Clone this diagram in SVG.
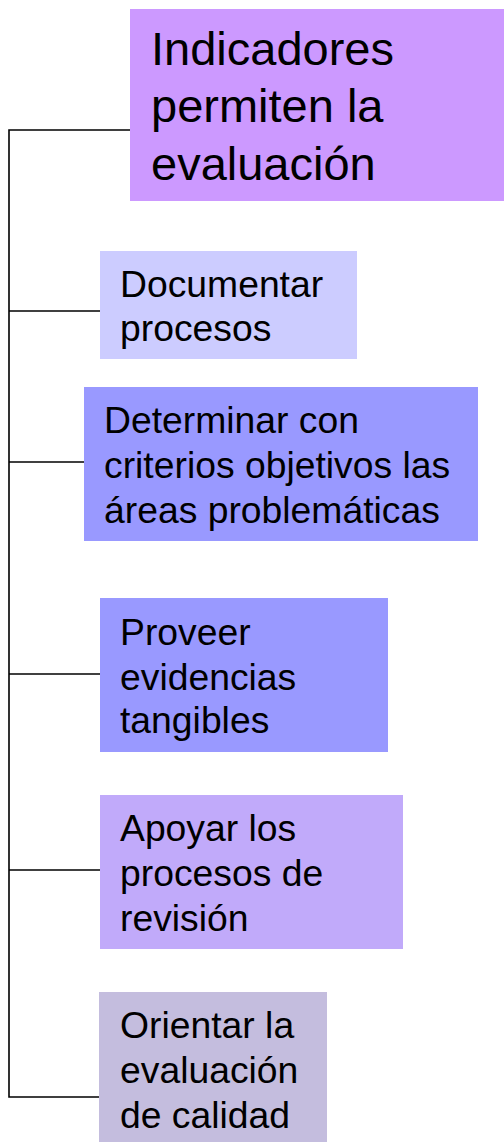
<svg xmlns="http://www.w3.org/2000/svg" width="504" height="1142" viewBox="0 0 504 1142">
<style>
text{font-family:"Liberation Sans",Arial,sans-serif;fill:#000}
.s{font-size:37.3px}
.b{font-size:47px}
.c{fill:none;stroke:#000;stroke-width:1.6}
</style>
<rect width="504" height="1142" fill="#fff"/>
<g id="connectors">
<path class="c" d="M130,130 H9 V1097 H99"/>
<path class="c" d="M9,311 H100"/>
<path class="c" d="M9,462 H84"/>
<path class="c" d="M9,674 H100"/>
<path class="c" d="M9,870 H100"/>
</g>
<g id="n0">
<rect x="130" y="9" width="374" height="192" fill="#CC99FF"/>
<text class="b" x="151" y="65">Indicadores</text>
<text class="b" x="151" y="122">permiten la</text>
<text class="b" x="151" y="180">evaluación</text>
</g>
<g id="n1">
<rect x="100" y="251" width="257" height="108" fill="#CCCCFF"/>
<text class="s" x="120" y="297">Documentar</text>
<text class="s" x="120" y="341">procesos</text>
</g>
<g id="n2">
<rect x="84" y="387" width="394" height="154" fill="#9999FF"/>
<text class="s" x="104" y="433">Determinar con</text>
<text class="s" x="104" y="478">criterios objetivos las</text>
<text class="s" x="104" y="523">áreas problemáticas</text>
</g>
<g id="n3">
<rect x="100" y="598" width="288" height="154" fill="#9999FF"/>
<text class="s" x="120" y="645">Proveer</text>
<text class="s" x="120" y="690">evidencias</text>
<text class="s" x="120" y="733">tangibles</text>
</g>
<g id="n4">
<rect x="100" y="795" width="303" height="154" fill="#C1AAFA"/>
<text class="s" x="120" y="841">Apoyar los</text>
<text class="s" x="120" y="886">procesos de</text>
<text class="s" x="120" y="931">revisión</text>
</g>
<g id="n5">
<rect x="99" y="992" width="228" height="150" fill="#C4BDDE"/>
<text class="s" x="120" y="1038">Orientar la</text>
<text class="s" x="120" y="1083">evaluación</text>
<text class="s" x="120" y="1128">de calidad</text>
</g>
</svg>
